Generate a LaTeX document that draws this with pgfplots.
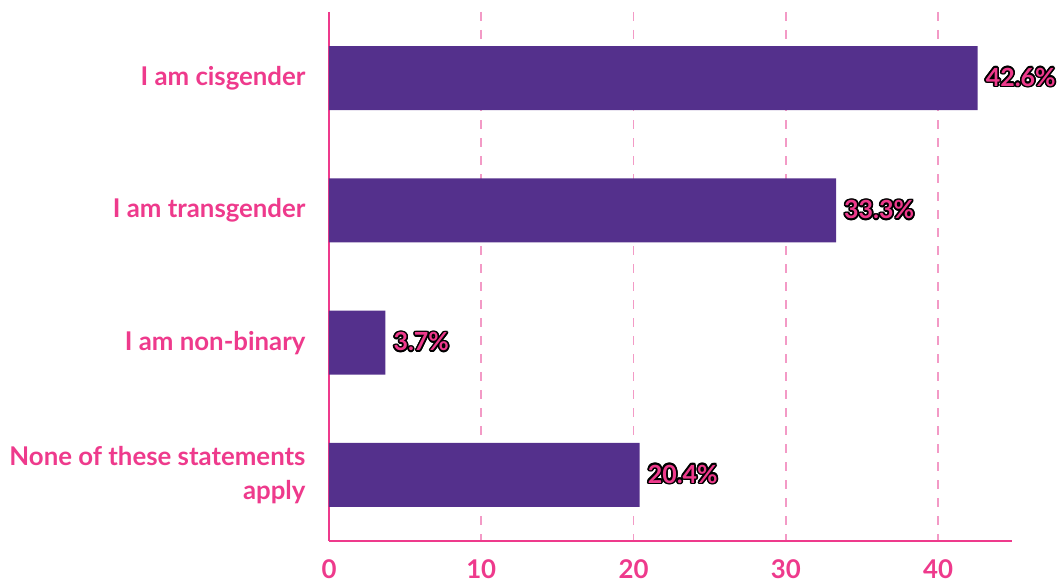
\documentclass[border=0pt]{standalone}
\usepackage{fontspec}
\setmainfont{Lato}
\usepackage{pgfplots}
\pgfplotsset{compat=1.18}
\usepackage{pgfplotstable}
\usepackage{contour}
\contourlength{1.6pt}
\definecolor{barpurple}{HTML}{54308C}
\definecolor{txtpink}{HTML}{EE3A8C}
\definecolor{gridpink}{HTML}{F39AC6}
\pgfplotstableread[col sep=comma]{
y,val,lab
0,42.6,42.6\%
1,33.3,33.3\%
2,3.7,3.7\%
3,20.4,20.4\%
}\datatab
\begin{document}
\begin{tikzpicture}
\begin{axis}[
  scale only axis,
  width=683pt, height=529pt,
  xmin=0, xmax=44.86,
  ymin=-0.5, ymax=3.5,
  y dir=reverse,
  xbar, bar width=64pt, bar shift=0pt,
  axis x line*=bottom, axis y line*=left,
  axis line style={draw=txtpink, line width=2.5pt, -},
  xtick={0,10,20,30,40},
  ytick={0,1,2,3},
  yticklabels={I am cisgender, I am transgender, I am non-binary, {None of these statements\\apply}},
  major tick length=0pt,
  xmajorgrids,
  grid style={draw=gridpink, line width=1.5pt, dash pattern=on 9pt off 9pt},
  /pgf/number format/assume math mode=true,
  tick label style={font=\fontsize{25.8}{34}\selectfont\bfseries, text=txtpink},
  yticklabel style={align=right, xshift=-20pt},
  xticklabel style={yshift=-15pt},
  nodes near coords={\contour{black}{\pgfplotspointmeta}},
  point meta=explicit symbolic,
  nodes near coords style={anchor=west, font=\fontsize{25}{28}\selectfont\bfseries, text=txtpink, inner sep=8pt},
]
\addplot[fill=barpurple, draw=none] table[x=val, y=y, meta=lab] {\datatab};
\end{axis}
\pgfresetboundingbox
\path (current axis.south west) ++(-329pt,-44pt) rectangle ([shift={(51pt,12pt)}]current axis.north east);
\end{tikzpicture}
\end{document}
